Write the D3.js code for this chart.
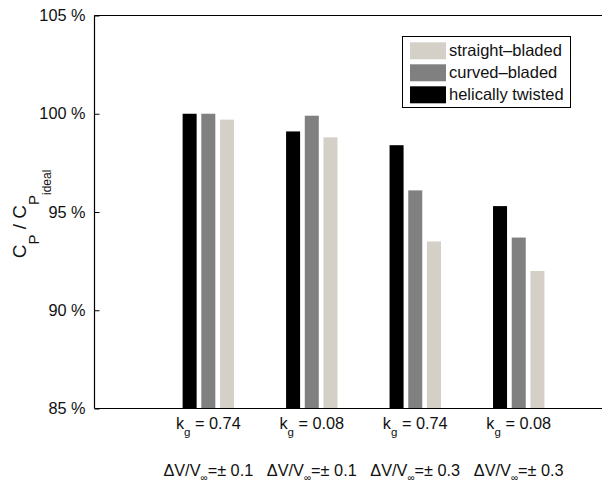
<!DOCTYPE html>
<html>
<head>
<meta charset="utf-8">
<script src="https://cdn.jsdelivr.net/npm/d3@7"></script>
<style>
  html, body { margin: 0; padding: 0; background: #fff; }
  svg { display: block; font-family: "Liberation Sans", Arial, Helvetica, sans-serif; }
</style>
</head>
<body>
<svg id="chart" width="602" height="489"></svg>
<script>
// Power coefficient relative to the ideal rotor, per configuration
const groups = [
  { kg: "0.74", dv: "0.1" },
  { kg: "0.08", dv: "0.1" },
  { kg: "0.74", dv: "0.3" },
  { kg: "0.08", dv: "0.3" }
];
const seriesNames = ["helically twisted", "curved\u2013bladed", "straight\u2013bladed"];
const helical  = [100.0, 99.1, 98.4, 95.3];
const curved   = [100.0, 99.9, 96.1, 93.7];
const straight = [99.7, 98.8, 93.5, 92.0];
const seriesColors = ["#000000", "#808080", "#d4d0c8"];
const yTicks = [85, 90, 95, 100, 105];
const legendOrder = ["straight\u2013bladed", "curved\u2013bladed", "helically twisted"];

const seriesValues = [helical, curved, straight];

const svg = d3.select("#chart");
const plotLeft = 94.5, plotRight = 601.5, plotTop = 15.5, plotBottom = 408.5;

const x = d3.scaleLinear().domain([-0.1, 4.8]).range([plotLeft, plotRight]);
const y = d3.scaleLinear().domain([85, 105]).range([plotBottom, plotTop]);
const xs = d3.scaleBand().domain(seriesNames).range([-25.7, 25.7]).paddingInner(0.25);
const color = d3.scaleOrdinal().domain(seriesNames).range(seriesColors);

// Bars
const gBars = svg.append("g");
groups.forEach((g, i) => {
  seriesNames.forEach((s, j) => {
    const v = seriesValues[j][i];
    gBars.append("rect")
      .attr("x", x(i + 1) + xs(s))
      .attr("width", xs.bandwidth())
      .attr("y", y(v))
      .attr("height", y(85) - y(v))
      .attr("fill", color(s));
  });
});

// Y axis ticks and labels
const yAxis = d3.axisLeft(y).tickValues(yTicks).tickSize(-5).tickPadding(9)
  .tickFormat(d => d + " %");
const ya = svg.append("g").attr("transform", `translate(${plotLeft},0)`).call(yAxis);
ya.select(".domain").remove();
ya.selectAll(".tick line").attr("stroke", "#000");
ya.selectAll(".tick text").attr("font-size", 16.3).attr("fill", "#111")
  .attr("font-family", "Liberation Sans, Arial, sans-serif");

// Axis frame: left, top and bottom lines
svg.append("line").attr("x1", plotLeft).attr("x2", plotLeft).attr("y1", plotTop).attr("y2", plotBottom)
  .attr("stroke", "#000").attr("stroke-width", 1.2);
svg.append("line").attr("x1", plotLeft).attr("x2", 602).attr("y1", plotTop).attr("y2", plotTop)
  .attr("stroke", "#000").attr("stroke-width", 1.2);
svg.append("line").attr("x1", plotLeft).attr("x2", 602).attr("y1", plotBottom).attr("y2", plotBottom)
  .attr("stroke", "#000").attr("stroke-width", 1.2);

// Category labels (two rows)
groups.forEach((g, i) => {
  const cx = x(i + 1);
  const t1 = svg.append("text").attr("x", cx).attr("y", 428.7)
    .attr("text-anchor", "middle").attr("font-size", 16.3).attr("fill", "#111");
  t1.append("tspan").text("k");
  t1.append("tspan").attr("font-size", 11.5).attr("dy", 7.5).text("g");
  t1.append("tspan").attr("dy", -7.5).text(" = " + g.kg);

  const t2 = svg.append("text").attr("x", cx).attr("y", 476)
    .attr("text-anchor", "middle").attr("font-size", 16.3).attr("fill", "#111");
  t2.append("tspan").text("\u0394V/V");
  t2.append("tspan").attr("font-size", 10).attr("dy", 5).text("\u221E");
  t2.append("tspan").attr("dy", -5).text("=\u00B1 " + g.dv);
});

// Y axis title
const yt = svg.append("text")
  .attr("transform", "translate(26,214) rotate(-90)")
  .attr("text-anchor", "middle").attr("font-size", 19).attr("fill", "#111");
yt.append("tspan").text("C");
yt.append("tspan").attr("font-size", 15).attr("dy", 13).text("P");
yt.append("tspan").attr("dy", -13).text(" / C");
yt.append("tspan").attr("font-size", 15).attr("dy", 13).text("P");
yt.append("tspan").attr("font-size", 12).attr("dy", 12).text("ideal");

// Legend
const lg = svg.append("g");
lg.append("rect").attr("x", 402.5).attr("y", 36.5).attr("width", 168).attr("height", 71)
  .attr("fill", "#fff").attr("stroke", "#000").attr("stroke-width", 1);
legendOrder.forEach((s, k) => {
  const yy = 42.3 + k * 22;
  lg.append("rect").attr("x", 410).attr("y", yy).attr("width", 36).attr("height", 17)
    .attr("fill", color(s));
  lg.append("text").attr("x", 449).attr("y", yy + 14).attr("font-size", 16.5)
    .attr("fill", "#111").text(s);
});
</script>
</body>
</html>
